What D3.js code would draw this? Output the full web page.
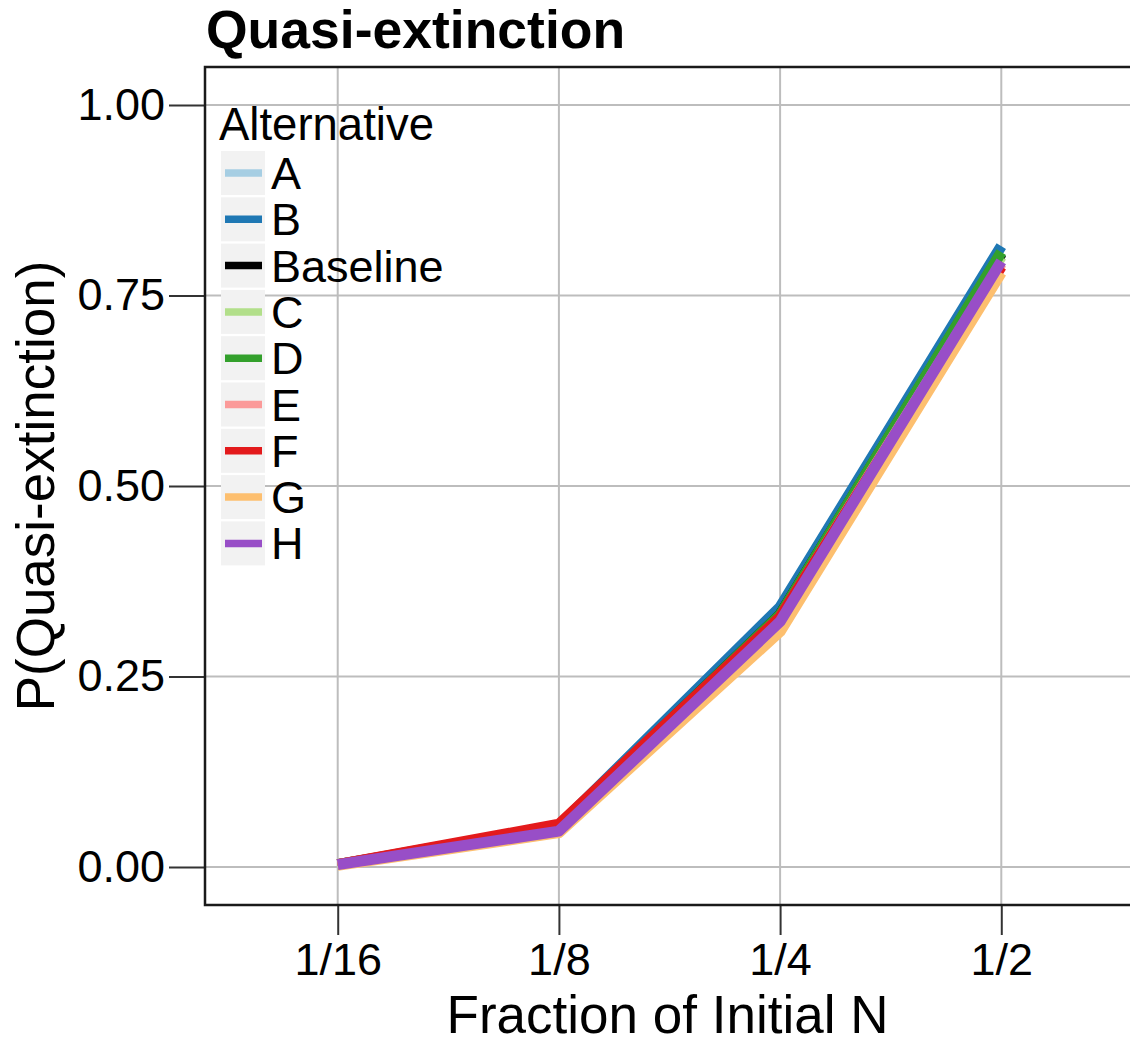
<!DOCTYPE html>
<html>
<head>
<meta charset="utf-8">
<script src="https://cdn.jsdelivr.net/npm/d3@7"></script>
<style>
  body { margin: 0; background: #fff; }
  text { font-family: "Liberation Sans", Arial, sans-serif; }
</style>
</head>
<body>
<script>
const fractions = ["1/16", "1/8", "1/4", "1/2"];
const alternatives = ["A", "B", "Baseline", "C", "D", "E", "F", "G", "H"];
const colors = ["#a6cee3", "#1f78b4", "#000000", "#b2df8a", "#33a02c", "#fb9a99", "#e31a1c", "#fdbf6f", "#984ec7"];

const valA = [0.003, 0.052, 0.333, 0.806];
const valB = [0.003, 0.054, 0.341, 0.815];
const valBaseline = [0.003, 0.052, 0.331, 0.805];
const valC = [0.003, 0.051, 0.329, 0.801];
const valD = [0.003, 0.052, 0.331, 0.807];
const valE = [0.003, 0.054, 0.327, 0.792];
const valF = [0.003, 0.056, 0.328, 0.788];
const valG = [0.002, 0.045, 0.309, 0.780];
const valH = [0.003, 0.047, 0.322, 0.795];
const seriesVals = [valA, valB, valBaseline, valC, valD, valE, valF, valG, valH];

const yTicks = [0, 0.25, 0.5, 0.75, 1.0];

const W = 1130, H = 1044;
const pLeft = 205, pTop = 67, pRight = 1134, pBottom = 905;

const svg = d3.select('body')
    .append('svg')
    .attr('width', W)
    .attr('height', H)

const x = d3.scalePoint()
    .domain(fractions)
    .range([pLeft, pRight])
    .padding(0.6)

const y = d3.scaleLinear()
    .domain([-0.05, 1.05])
    .range([pBottom, pTop])

// grid
svg.append('g')
    .selectAll('line')
    .data(yTicks)
    .join('line')
    .attr('x1', pLeft).attr('x2', W)
    .attr('y1', d => y(d)).attr('y2', d => y(d))
    .attr('stroke', '#bdbdbd').attr('stroke-width', 2)

svg.append('g')
    .selectAll('line')
    .data(fractions)
    .join('line')
    .attr('x1', d => x(d)).attr('x2', d => x(d))
    .attr('y1', pTop).attr('y2', pBottom)
    .attr('stroke', '#bdbdbd').attr('stroke-width', 2)

// lines
const line = d3.line()
    .x((d, i) => x(fractions[i]))
    .y(d => y(d))

svg.append('g')
    .selectAll('path')
    .data(seriesVals)
    .join('path')
    .attr('d', d => line(d))
    .attr('fill', 'none')
    .attr('stroke', (d, i) => colors[i])
    .attr('stroke-width', 11)
    .attr('stroke-linejoin', 'round')

// axes
const yAxis = svg.append('g')
    .attr('transform', `translate(${pLeft},0)`)
    .call(d3.axisLeft(y).tickValues(yTicks).tickFormat(d3.format('.2f')).tickSize(36).tickPadding(4))
yAxis.select('.domain').remove()
yAxis.selectAll('line').attr('stroke', '#333').attr('stroke-width', 2)
yAxis.selectAll('text').attr('font-size', 45).attr('fill', '#000')
    .attr('font-family', '"Liberation Sans", Arial, sans-serif')

const xAxis = svg.append('g')
    .attr('transform', `translate(0,${pBottom})`)
    .call(d3.axisBottom(x).tickSize(30).tickPadding(8))
xAxis.select('.domain').remove()
xAxis.selectAll('line').attr('stroke', '#333').attr('stroke-width', 2)
xAxis.selectAll('text').attr('font-size', 45).attr('fill', '#000')
    .attr('font-family', '"Liberation Sans", Arial, sans-serif')

// panel border
svg.append('path')
    .attr('d', `M${W},${pTop}H${pLeft}V${pBottom}H${W}`)
    .attr('fill', 'none')
    .attr('stroke', '#1a1a1a')
    .attr('stroke-width', 2.5)

// titles
svg.append('text')
    .attr('x', 206).attr('y', 48)
    .attr('font-size', 53.5).attr('font-weight', 'bold')
    .text('Quasi-extinction')

svg.append('text')
    .attr('x', (pLeft + pRight) / 2 - 2).attr('y', 1033)
    .attr('text-anchor', 'middle')
    .attr('font-size', 53)
    .text('Fraction of Initial N')

svg.append('text')
    .attr('transform', `translate(54,${(pTop + pBottom) / 2}) rotate(-90)`)
    .attr('text-anchor', 'middle')
    .attr('font-size', 53)
    .text('P(Quasi-extinction)')

// legend
const leg = svg.append('g')

leg.append('text')
    .attr('x', 219).attr('y', 140)
    .attr('font-size', 45.5)
    .text('Alternative')

const rows = leg.selectAll('g.row')
    .data(alternatives)
    .join('g')
    .attr('class', 'row')
    .attr('transform', (d, i) => `translate(221,${151 + i * 46.3})`)

rows.append('rect')
    .attr('width', 44).attr('height', 44)
    .attr('fill', '#f2f2f2')

rows.append('line')
    .attr('x1', 4).attr('x2', 41)
    .attr('y1', 22).attr('y2', 22)
    .attr('stroke', (d, i) => colors[i])
    .attr('stroke-width', 7.5)

rows.append('text')
    .attr('x', 50).attr('y', 38)
    .attr('font-size', 45)
    .text(d => d)
</script>
</body>
</html>
